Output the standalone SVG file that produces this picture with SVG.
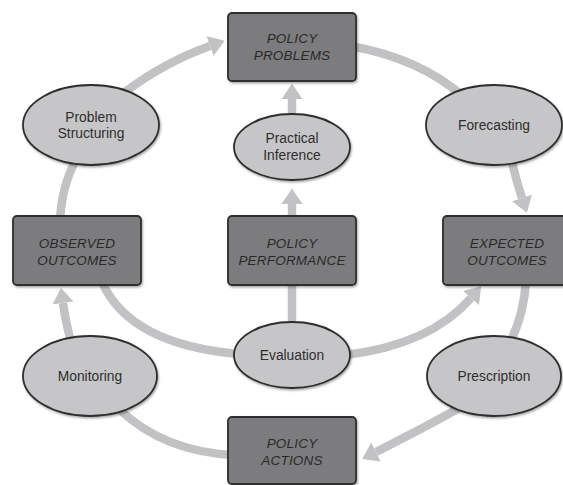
<svg xmlns="http://www.w3.org/2000/svg" width="563" height="485" viewBox="0 0 563 485">
<style>
.bg{fill:#ffffff}
.conn{fill:none;stroke:#c2c2c4;stroke-width:8.5;stroke-linecap:butt}
.box{fill:#7c7c7e;stroke:#2e2e2e;stroke-width:1.8}
.ell{fill:#c6c6c8;stroke:#2e2e2e;stroke-width:1.8}
.bt{font-family:"Liberation Sans",Arial,sans-serif;font-size:13.5px;font-style:italic;fill:#2a2a2a;text-anchor:middle;letter-spacing:0.2px}
.et{font-family:"Liberation Sans",Arial,sans-serif;font-size:13.8px;fill:#2e2e2e;text-anchor:middle}
</style>
<defs>
<marker id="ah" markerUnits="userSpaceOnUse" markerWidth="16" markerHeight="22" refX="0" refY="10.5" orient="auto" viewBox="0 0 16 21">
<path d="M0,0 L15.5,10.5 L0,21 Z" fill="#c2c2c4"/>
</marker>
<filter id="sh" x="-10%" y="-10%" width="125%" height="130%">
<feDropShadow dx="1" dy="1.5" stdDeviation="1.2" flood-color="#000" flood-opacity="0.35"/>
</filter>
</defs>
<rect class="bg" x="0" y="0" width="563" height="485"/>
<g id="connectors">
<path class="conn" d="M125,92 Q165,62 210,46" marker-end="url(#ah)"/>
<path class="conn" d="M350,46 Q420,58 465,98"/>
<path class="conn" d="M511,158 Q516,180 522,198" marker-end="url(#ah)"/>
<path class="conn" d="M526,280 Q524,315 510,342"/>
<path class="conn" d="M465,405 Q420,430 376,452" marker-end="url(#ah)"/>
<path class="conn" d="M234,455 Q165,452 120,410"/>
<path class="conn" d="M72,345 Q66,325 63,303" marker-end="url(#ah)"/>
<path class="conn" d="M102,282 Q130,345 240,354"/>
<path class="conn" d="M345,355 Q430,345 471,298" marker-end="url(#ah)"/>
<path class="conn" d="M60,220 Q62,185 76,160"/>
<path class="conn" d="M292,218 L292,204" marker-end="url(#ah)"/>
<path class="conn" d="M292,116 L292,99" marker-end="url(#ah)"/>
<path class="conn" d="M292,283 L292,326"/>
</g>
<g id="policy-problems">
<rect class="box" x="228" y="13" width="128" height="68" rx="4" filter="url(#sh)"/>
<text class="bt" x="292" y="43">POLICY</text>
<text class="bt" x="292" y="60">PROBLEMS</text>
</g>
<g id="observed-outcomes">
<rect class="box" x="13" y="216" width="128" height="69" rx="4" filter="url(#sh)"/>
<text class="bt" x="77" y="248">OBSERVED</text>
<text class="bt" x="77" y="265">OUTCOMES</text>
</g>
<g id="policy-performance">
<rect class="box" x="228" y="216" width="128" height="69" rx="4" filter="url(#sh)"/>
<text class="bt" x="292" y="248">POLICY</text>
<text class="bt" x="292" y="265">PERFORMANCE</text>
</g>
<g id="expected-outcomes">
<rect class="box" x="443" y="216" width="128" height="69" rx="4" filter="url(#sh)"/>
<text class="bt" x="507" y="248">EXPECTED</text>
<text class="bt" x="507" y="265">OUTCOMES</text>
</g>
<g id="policy-actions">
<rect class="box" x="228" y="417" width="128" height="67" rx="4" filter="url(#sh)"/>
<text class="bt" x="292" y="448">POLICY</text>
<text class="bt" x="292" y="465">ACTIONS</text>
</g>
<g id="problem-structuring">
<ellipse class="ell" cx="91" cy="125" rx="68" ry="40" filter="url(#sh)"/>
<text class="et" x="91" y="121.5">Problem</text>
<text class="et" x="91" y="137.5">Structuring</text>
</g>
<g id="forecasting">
<ellipse class="ell" cx="494" cy="125" rx="68" ry="40" filter="url(#sh)"/>
<text class="et" x="494" y="130">Forecasting</text>
</g>
<g id="practical-inference">
<ellipse class="ell" cx="292" cy="147" rx="58" ry="33" filter="url(#sh)"/>
<text class="et" x="292" y="143">Practical</text>
<text class="et" x="292" y="160">Inference</text>
</g>
<g id="evaluation">
<ellipse class="ell" cx="292" cy="355" rx="58" ry="33" filter="url(#sh)"/>
<text class="et" x="292" y="360">Evaluation</text>
</g>
<g id="monitoring">
<ellipse class="ell" cx="90" cy="376" rx="67" ry="40" filter="url(#sh)"/>
<text class="et" x="90" y="381">Monitoring</text>
</g>
<g id="prescription">
<ellipse class="ell" cx="494" cy="376" rx="67" ry="40" filter="url(#sh)"/>
<text class="et" x="494" y="381">Prescription</text>
</g>
</svg>
